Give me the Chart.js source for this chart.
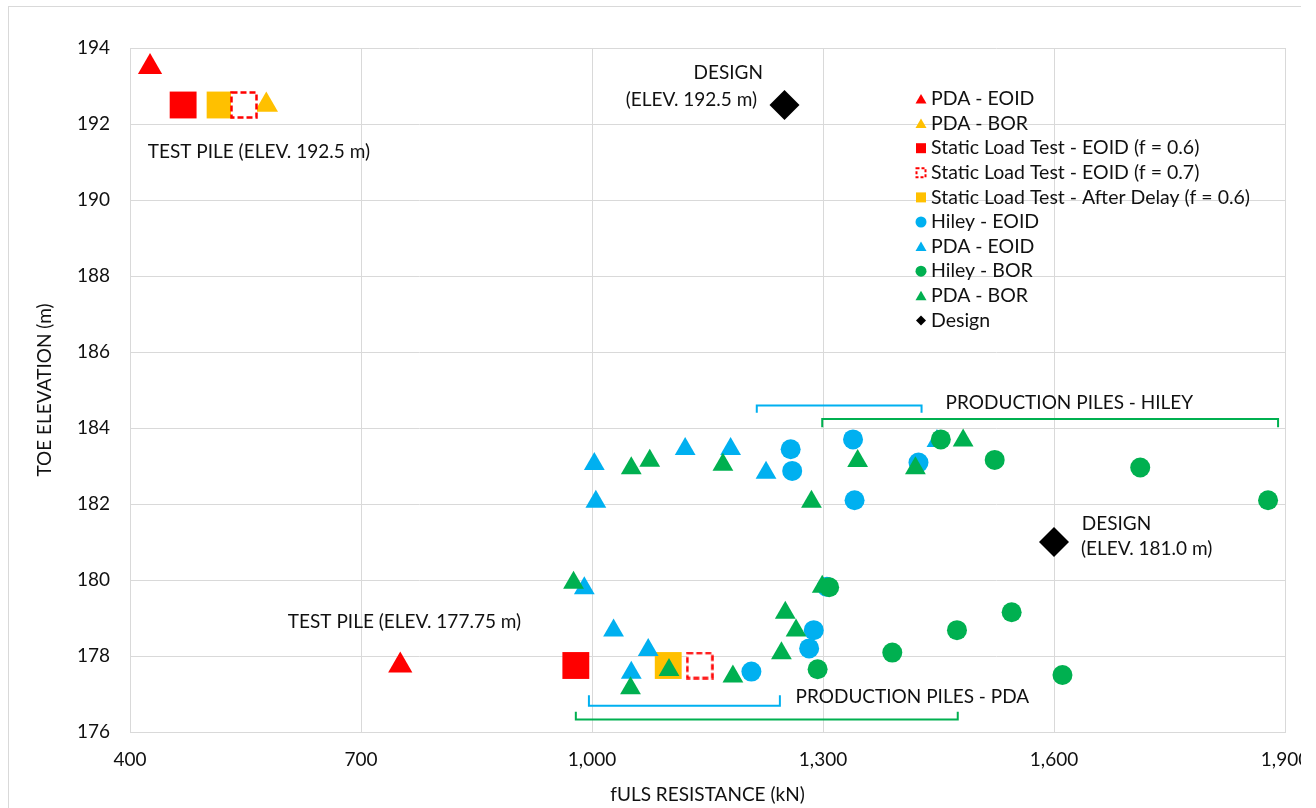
<!DOCTYPE html>
<html>
<head>
<meta charset="utf-8">
<script src="https://cdn.jsdelivr.net/npm/chart.js@4/dist/chart.umd.min.js"></script>
<style>
  html, body { margin: 0; padding: 0; background: #fff; overflow: hidden; }
  #frame { position: absolute; left: 8px; top: 6px; width: 1400px; height: 900px; border: 1px solid #d9d9d9; }
  #wrap { position: absolute; left: 0; top: 0; width: 1340px; height: 808px; }
  #crop { position: absolute; left: 1301px; top: 0; width: 100px; height: 808px; background: #fff; }
</style>
</head>
<body>
<div id="frame"></div>
<div id="wrap"><canvas id="pileChart" width="1340" height="808"></canvas></div>
<div id="crop"></div>
<script>
// test piles
const testPdaEoidX = [426, 751];
const testPdaEoidY = [193.5, 177.75];
const testPdaBorX = [577];
const testPdaBorY = [192.5];
const staticEoid06X = [469, 979];
const staticEoid06Y = [192.5, 177.75];
const staticEoid07X = [548, 1140];
const staticEoid07Y = [192.5, 177.75];
const staticDelayX = [517, 1099];
const staticDelayY = [192.5, 177.75];

// production piles
const hileyEoidX = [1258, 1260, 1339, 1341, 1424, 1207, 1288, 1282, 1305];
const hileyEoidY = [183.44, 182.87, 183.7, 182.1, 183.09, 177.59, 178.68, 178.2, 179.82];
const pdaEoidX = [1003, 1005, 1121, 1180, 1226, 1448, 990, 1028, 1073, 1051];
const pdaEoidY = [183.05, 182.06, 183.45, 183.45, 182.82, 183.66, 179.78, 178.67, 178.16, 177.56];
const hileyBorX = [1453, 1523, 1712, 1878, 1308, 1293, 1390, 1474, 1545, 1611];
const hileyBorY = [183.7, 183.16, 182.96, 182.1, 179.81, 177.65, 178.09, 178.68, 179.15, 177.5];
const pdaBorX = [1051, 1075, 1170, 1285, 1345, 1420, 1482, 976, 1050, 1100, 1183, 1251, 1265, 1246, 1299];
const pdaBorY = [182.94, 183.14, 183.03, 182.06, 183.13, 182.94, 183.67, 179.93, 177.15, 177.63, 177.46, 179.14, 178.67, 178.07, 179.82];

// design
const designX = [1250, 1600];
const designY = [192.5, 181.0];

// brackets
const hileyEoidBracketX = [1214, 1214, 1428, 1428];
const hileyEoidBracketY = [184.4, 184.59, 184.59, 184.4];
const hileyBorBracketX = [1299, 1299, 1891, 1891];
const hileyBorBracketY = [184.02, 184.24, 184.24, 184.02];
const pdaEoidBracketX = [996, 996, 1244, 1244];
const pdaEoidBracketY = [176.97, 176.69, 176.69, 176.97];
const pdaBorBracketX = [979, 979, 1475, 1475];
const pdaBorBracketY = [176.53, 176.33, 176.33, 176.53];

// annotation text
const noteText = ['DESIGN', '(ELEV. 192.5 m)', 'TEST PILE (ELEV. 192.5 m)', 'PRODUCTION PILES - HILEY',
    'DESIGN', '(ELEV. 181.0 m)', 'TEST PILE (ELEV. 177.75 m)', 'PRODUCTION PILES - PDA'];
const noteX = [1177, 1129, 423, 1620, 1636, 1635, 605, 1416];
const noteY = [193.34, 192.63, 191.26, 184.65, 181.47, 180.82, 178.9, 176.93];
const noteAlign = ['center', 'center', 'left', 'center', 'left', 'left', 'left', 'center'];

const RED = '#ff0000', YELLOW = '#ffc000', BLUE = '#00b0f0', GREEN = '#00b050';
const FONT = 'Lato';

const pts = (xs, ys) => xs.map((x, i) => ({ x: x, y: ys[i] }));

// dashed square marker
const dashedSquare = document.createElement('canvas');
dashedSquare.width = 28;
dashedSquare.height = 28;
(function () {
    const c = dashedSquare.getContext('2d');
    c.fillStyle = '#fff';
    c.fillRect(1, 1, 26, 26);
    c.strokeStyle = RED;
    c.lineWidth = 2.5;
    c.setLineDash([6, 3]);
    c.strokeRect(1.5, 1.5, 25, 25);
})();

function series(label, xs, ys, style, color, radius, legend) {
    return {
        label: label,
        data: pts(xs, ys),
        pointStyle: style,
        pointRadius: radius,
        pointBackgroundColor: color,
        pointBorderColor: color,
        pointBorderWidth: 0,
        showLine: false,
        legend: legend
    };
}

function bracket(xs, ys, color) {
    return {
        label: '',
        data: pts(xs, ys),
        showLine: true,
        borderColor: color,
        borderWidth: 2,
        pointRadius: 0,
        fill: false
    };
}

const markerDatasets = [
    series('PDA - EOID', testPdaEoidX, testPdaEoidY, 'triangle', RED, 14, 'triangle'),
    series('PDA - BOR', testPdaBorX, testPdaBorY, 'triangle', YELLOW, 13.5, 'triangle'),
    series('Static Load Test - EOID (f = 0.6)', staticEoid06X, staticEoid06Y, 'rect', RED, 19, 'rect'),
    series('Static Load Test - After Delay (f = 0.6)', staticDelayX, staticDelayY, 'rect', YELLOW, 19, 'rect'),
    series('Static Load Test - EOID (f = 0.7)', staticEoid07X, staticEoid07Y, dashedSquare, RED, 14, 'dashed'),
    series('Hiley - EOID', hileyEoidX, hileyEoidY, 'circle', BLUE, 10, 'circle'),
    series('PDA - EOID', pdaEoidX, pdaEoidY, 'triangle', BLUE, 12, 'triangle'),
    series('Hiley - BOR', hileyBorX, hileyBorY, 'circle', GREEN, 10, 'circle'),
    series('PDA - BOR', pdaBorX, pdaBorY, 'triangle', GREEN, 12, 'triangle'),
    series('Design', designX, designY, 'rectRot', '#000', 15, 'diamond')
];
// later datasets on top
markerDatasets.forEach((ds, i) => { ds.order = markerDatasets.length - i; });

const legendOrder = [0, 1, 2, 4, 3, 5, 6, 7, 8, 9];

const datasets = markerDatasets.concat([
    bracket(hileyEoidBracketX, hileyEoidBracketY, BLUE),
    bracket(hileyBorBracketX, hileyBorBracketY, GREEN),
    bracket(pdaEoidBracketX, pdaEoidBracketY, BLUE),
    bracket(pdaBorBracketX, pdaBorBracketY, GREEN)
]);

const notesPlugin = {
    id: 'notes',
    afterDatasetsDraw(chart) {
        const ctx = chart.ctx;
        const xs = chart.scales.x, ys = chart.scales.y;
        ctx.save();
        ctx.font = '19px ' + FONT;
        ctx.fillStyle = '#111';
        ctx.textBaseline = 'middle';
        noteText.forEach((t, i) => {
            ctx.textAlign = noteAlign[i];
            ctx.fillText(t, xs.getPixelForValue(noteX[i]), ys.getPixelForValue(noteY[i]));
        });
        ctx.restore();
    }
};

function drawLegendMarker(ctx, kind, color, x, y) {
    ctx.fillStyle = color;
    ctx.strokeStyle = color;
    ctx.beginPath();
    if (kind === 'triangle') {
        ctx.moveTo(x, y - 5);
        ctx.lineTo(x + 5.5, y + 4.5);
        ctx.lineTo(x - 5.5, y + 4.5);
        ctx.closePath();
        ctx.fill();
    } else if (kind === 'rect') {
        ctx.rect(x - 5, y - 5, 10, 10);
        ctx.fill();
    } else if (kind === 'circle') {
        ctx.arc(x, y, 5.5, 0, Math.PI * 2);
        ctx.fill();
    } else if (kind === 'diamond') {
        ctx.moveTo(x, y - 5);
        ctx.lineTo(x + 5, y);
        ctx.lineTo(x, y + 5);
        ctx.lineTo(x - 5, y);
        ctx.closePath();
        ctx.fill();
    } else if (kind === 'dashed') {
        ctx.lineWidth = 2;
        ctx.setLineDash([3, 2]);
        ctx.strokeRect(x - 4.5, y - 4.5, 9, 9);
        ctx.setLineDash([]);
    }
}

const legendPlugin = {
    id: 'pileLegend',
    afterDraw(chart) {
        const ctx = chart.ctx;
        ctx.save();
        ctx.font = '19.5px ' + FONT;
        ctx.textBaseline = 'middle';
        ctx.textAlign = 'left';
        legendOrder.forEach((idx, row) => {
            const ds = markerDatasets[idx];
            const y = 99 + row * 24.6;
            drawLegendMarker(ctx, ds.legend, ds.pointBackgroundColor, 921, y);
            ctx.fillStyle = '#111';
            ctx.fillText(ds.label, 931, y);
        });
        ctx.restore();
    }
};

const chart = new Chart(document.getElementById('pileChart'), {
    type: 'scatter',
    data: { datasets: datasets },
    options: {
        responsive: false,
        animation: false,
        events: [],
        layout: { padding: { left: 0, right: 55, top: 48, bottom: 0 } },
        font: { family: FONT, size: 19 },
        plugins: {
            legend: { display: false },
            tooltip: { enabled: false }
        },
        scales: {
            x: {
                type: 'linear',
                min: 400,
                max: 1900,
                afterFit: s => { s.height = 76; },
                ticks: {
                    stepSize: 300,
                    padding: 16,
                    color: '#111',
                    font: { family: FONT, size: 19 },
                    callback: v => v.toLocaleString('en-US')
                },
                grid: { color: '#d9d9d9', drawTicks: false },
                border: { color: '#d9d9d9' },
                title: {
                    display: true,
                    text: 'fULS RESISTANCE (kN)',
                    color: '#111',
                    font: { family: FONT, size: 19 },
                    padding: { top: 0, bottom: 1.5 }
                }
            },
            y: {
                type: 'linear',
                min: 176,
                max: 194,
                afterFit: s => { s.width = 130; },
                ticks: {
                    stepSize: 2,
                    padding: 20,
                    color: '#111',
                    font: { family: FONT, size: 19 }
                },
                grid: { color: '#d9d9d9', drawTicks: false },
                border: { color: '#d9d9d9' },
                title: {
                    display: true,
                    text: 'TOE ELEVATION (m)',
                    color: '#111',
                    font: { family: FONT, size: 19 },
                    padding: { top: 33.5, bottom: 0 }
                }
            }
        }
    },
    plugins: [notesPlugin, legendPlugin]
});
</script>
</body>
</html>
